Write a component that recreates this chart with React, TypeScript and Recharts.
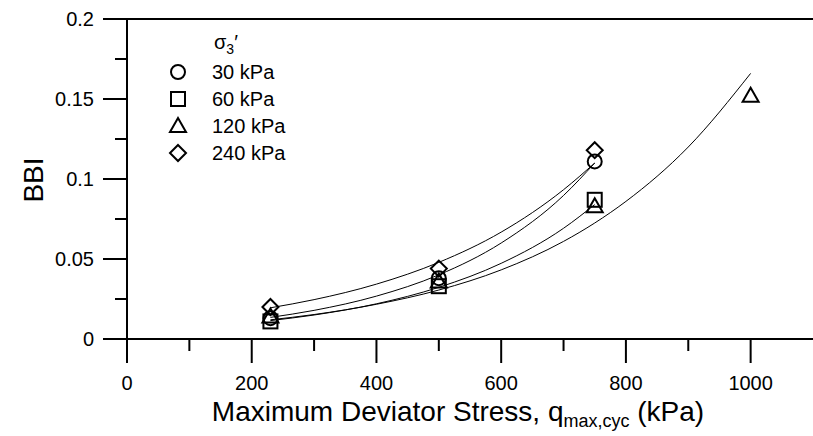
import React from 'react';
import { ComposedChart, Line, Scatter, XAxis, YAxis, ReferenceLine } from 'recharts';

// Measured points (x = maximum deviator stress, kPa; y = BBI)
const stressPts = [230, 500, 750];
const stress120 = [230, 500, 750, 1000];
const bbi30 = [0.013, 0.038, 0.111];
const bbi60 = [0.011, 0.033, 0.087];
const bbi120 = [0.014, 0.036, 0.083, 0.152];
const bbi240 = [0.020, 0.044, 0.118];

// Trend curves
const curveX = [230, 300, 400, 500, 600, 700, 750];
const curve30 = [0.0135, 0.0179, 0.0268, 0.0401, 0.0600, 0.0897, 0.110];
const curve60 = [0.0115, 0.0150, 0.0220, 0.0323, 0.0473, 0.0692, 0.084];
const curve240 = [0.0195, 0.0246, 0.0343, 0.0479, 0.0668, 0.0933, 0.110];
const curve120X = [230, 300, 400, 500, 600, 700, 750, 800, 900, 1000];
const curve120 = [0.012, 0.0153, 0.0217, 0.0306, 0.0432, 0.0610, 0.0725, 0.0860, 0.120, 0.166];

const xTicks = [0, 100, 200, 300, 400, 500, 600, 700, 800, 900, 1000];
const xMajor = [0, 200, 400, 600, 800, 1000];
const yTicks = [0, 0.025, 0.05, 0.075, 0.1, 0.125, 0.15, 0.175, 0.2];
const yMajor = [0, 0.05, 0.1, 0.15, 0.2];
const yLabels = ['0', '0.05', '0.1', '0.15', '0.2'];

const legendNames = ['30 kPa', '60 kPa', '120 kPa', '240 kPa'];
const legendShapes = ['circle', 'square', 'triangle', 'diamond'];

const zip = (xs: number[], ys: number[]) => xs.map((x, i) => ({ x, y: ys[i] }));

const FONT = '"Liberation Sans", Arial, Helvetica, sans-serif';

function Marker({ kind, cx, cy }: { kind: string; cx: number; cy: number }) {
  const common = { fill: 'none', stroke: '#000', strokeWidth: 2 };
  if (kind === 'circle') return <circle cx={cx} cy={cy} r={7} {...common} />;
  if (kind === 'square') return <rect x={cx - 7} y={cy - 7} width={14} height={14} {...common} />;
  if (kind === 'triangle')
    return <polygon points={`${cx},${cy - 8} ${cx + 8},${cy + 6} ${cx - 8},${cy + 6}`} {...common} />;
  return <polygon points={`${cx},${cy - 8} ${cx + 8},${cy} ${cx},${cy + 8} ${cx - 8},${cy}`} {...common} />;
}

const makeShape = (kind: string) => (props: any) => <Marker kind={kind} cx={props.cx} cy={props.cy} />;

function XTick(props: any) {
  const { x, y, payload } = props;
  const v = payload.value;
  const major = xMajor.includes(v);
  return (
    <g>
      <line x1={x} x2={x} y1={y} y2={y + (major ? 24 : 12)} stroke="#000" strokeWidth={2} />
      {major && (
        <text x={x} y={y + 51} textAnchor="middle" fontSize={20} fontFamily={FONT} fill="#000">
          {v}
        </text>
      )}
    </g>
  );
}

function YTick(props: any) {
  const { x, y, payload } = props;
  const v = payload.value;
  const idx = yMajor.findIndex((m) => Math.abs(m - v) < 1e-9);
  const major = idx >= 0;
  return (
    <g>
      <line x1={x - (major ? 24 : 12)} x2={x} y1={y} y2={y} stroke="#000" strokeWidth={2} />
      {major && (
        <text x={x - 33} y={y + 7} textAnchor="end" fontSize={20} fontFamily={FONT} fill="#000">
          {yLabels[idx]}
        </text>
      )}
    </g>
  );
}

function LegendBox() {
  return (
    <svg width={160} height={160} style={{ position: 'absolute', left: 168, top: 31, overflow: 'visible' }}>
      <text x={46} y={18} fontSize={20} fontFamily={FONT} fill="#000">
        σ<tspan dy={5} fontSize={14}>3</tspan><tspan dy={-5}>′</tspan>
      </text>
      {legendNames.map((name, i) => (
        <g key={name}>
          <Marker kind={legendShapes[i]} cx={10} cy={41 + i * 27} />
          <text x={44} y={48 + i * 27} fontSize={20} fontFamily={FONT} fill="#000">
            {name}
          </text>
        </g>
      ))}
    </svg>
  );
}

export default function App() {
  return (
    <div style={{ position: 'absolute', left: 0, top: 0, width: 813, height: 436, background: '#fff' }}>
      <ComposedChart width={813} height={436} margin={{ top: 19, right: 0, bottom: 0, left: 0 }}>
        <XAxis
          type="number"
          dataKey="x"
          domain={[0, 1100]}
          ticks={xTicks}
          allowDataOverflow
          height={97}
          tickSize={0}
          tickMargin={0}
          tickLine={false}
          tick={<XTick />}
          interval={0}
          axisLine={{ stroke: '#000', strokeWidth: 2 }}
          label={{
            content: () => (
              <text x={458} y={421} textAnchor="middle" fontSize={28} fontFamily={FONT} fill="#000">
                Maximum Deviator Stress, q
                <tspan dy={6} fontSize={18}>max,cyc</tspan>
                <tspan dy={-6}> (kPa)</tspan>
              </text>
            ),
          }}
        />
        <YAxis
          type="number"
          dataKey="y"
          domain={[0, 0.2]}
          ticks={yTicks}
          allowDataOverflow
          width={127}
          tickSize={0}
          tickMargin={0}
          tickLine={false}
          tick={<YTick />}
          interval={0}
          axisLine={{ stroke: '#000', strokeWidth: 2 }}
          label={{
            content: () => (
              <text x={43} y={180} transform="rotate(-90 43 180)" textAnchor="middle" fontSize={28} fontFamily={FONT} fill="#000">
                BBI
              </text>
            ),
          }}
        />
        <ReferenceLine y={0.2} stroke="#000" strokeWidth={2} ifOverflow="visible" />
        <Line data={zip(curveX, curve30)} dataKey="y" type="monotone" stroke="#000" strokeWidth={1} dot={false} isAnimationActive={false} />
        <Line data={zip(curveX, curve60)} dataKey="y" type="monotone" stroke="#000" strokeWidth={1} dot={false} isAnimationActive={false} />
        <Line data={zip(curveX, curve240)} dataKey="y" type="monotone" stroke="#000" strokeWidth={1} dot={false} isAnimationActive={false} />
        <Line data={zip(curve120X, curve120)} dataKey="y" type="monotone" stroke="#000" strokeWidth={1} dot={false} isAnimationActive={false} />
        <Scatter name="30 kPa" data={zip(stressPts, bbi30)} shape={makeShape('circle')} isAnimationActive={false} />
        <Scatter name="60 kPa" data={zip(stressPts, bbi60)} shape={makeShape('square')} isAnimationActive={false} />
        <Scatter name="120 kPa" data={zip(stress120, bbi120)} shape={makeShape('triangle')} isAnimationActive={false} />
        <Scatter name="240 kPa" data={zip(stressPts, bbi240)} shape={makeShape('diamond')} isAnimationActive={false} />
      </ComposedChart>
      <LegendBox />
    </div>
  );
}
